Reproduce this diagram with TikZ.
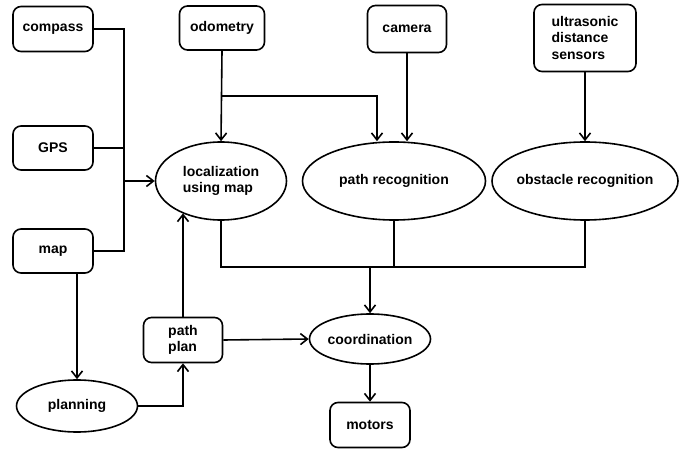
\documentclass[tikz,border=0pt]{standalone}
\usepackage{fontspec}
\setmainfont{Liberation Sans}
\usetikzlibrary{arrows.meta, shapes.geometric, calc, positioning}
\tikzset{
    srcBox/.style={rectangle, draw, rounded corners=8bp, line width=1.6bp, fill=white, inner sep=2bp, align=left},
    taskOval/.style={ellipse, draw, line width=1.6bp, fill=white, inner sep=0pt, align=left},
    flowEdge/.style={->, >={Straight Barb[length=7bp, width=11bp, line width=1.6bp]}, line width=1.6bp},
    flowLine/.style={line width=1.6bp},
}
\newcommand{\feedLink}[2]{
    \draw[flowEdge] (#1) -- (#2);
}

\begin{document}
\begin{tikzpicture}[x=1bp, y=-1bp, font=\fontsize{14bp}{16.5bp}\selectfont\bfseries]

        \useasboundingbox[fill=white] (0,0) rectangle (685,450);

        % sensors
        \node[srcBox, minimum width=80bp, minimum height=45bp] (compass) at (53,29) {compass};
        \node[srcBox, minimum width=80bp, minimum height=44bp] (gps) at (53,148) {GPS};
        \node[srcBox, minimum width=80bp, minimum height=44bp] (map) at (53,251) {map};
        \node[srcBox, minimum width=85bp, minimum height=44bp] (odometry) at (222,28) {odometry};
        \node[srcBox, minimum width=79bp, minimum height=47bp] (camera) at (407,29) {camera};
        \node[srcBox, minimum width=102bp, minimum height=67bp] (ultra) at (585,38) {ultrasonic\\distance\\sensors};

        % processing
        \node[taskOval, minimum width=131bp, minimum height=78bp] (loc) at (221,181) {localization\\using map};
        \node[taskOval, minimum width=183bp, minimum height=78bp] (pathrec) at (394,181) {path recognition};
        \node[taskOval, inner xsep=-3bp, minimum width=186bp, minimum height=78bp] (obstacle) at (585,181) {obstacle recognition};
        \node[taskOval, minimum width=121bp, minimum height=52bp] (planning) at (77,406) {planning};
        \node[srcBox, minimum width=79bp, minimum height=45bp] (pathplan) at (183,340) {path\\plan};
        \node[taskOval, minimum width=121bp, minimum height=50bp] (coord) at (370,339) {coordination};
        \node[srcBox, minimum width=80bp, minimum height=45bp] (motors) at (370,425) {motors};

        % junctions
        \coordinate (locIn) at (124,181);
        \coordinate (odoSplit) at (222,96);
        \coordinate (odoBend) at (377,96);
        \coordinate (merge) at (370,267);

        \draw[flowLine] (compass.east) -| (locIn |- map.east) -- (map.east);
        \draw[flowLine] (gps.east) -- (gps.east -| locIn);
        \feedLink{locIn}{loc.west}
        \feedLink{odometry.south}{loc.north}
        \draw[flowEdge] (odoSplit) -- (odoBend) -- (odoBend |- pathrec.north);
        \feedLink{camera.south}{camera.south |- pathrec.north}
        \feedLink{ultra.south}{obstacle.north}

        \draw[flowLine] (loc.south) |- (merge) -| (obstacle.south);
        \draw[flowLine] (pathrec.south) -- (pathrec.south |- merge);
        \feedLink{merge}{coord.north}
        \feedLink{coord.south}{motors.north}

        \feedLink{planning.north |- map.south}{planning.north}
        \draw[flowEdge] (planning.east) -| (pathplan.south);
        \feedLink{pathplan.north}{pathplan.north |- loc.220}
        \feedLink{pathplan.east}{coord.west}

    \end{tikzpicture}
\end{document}
